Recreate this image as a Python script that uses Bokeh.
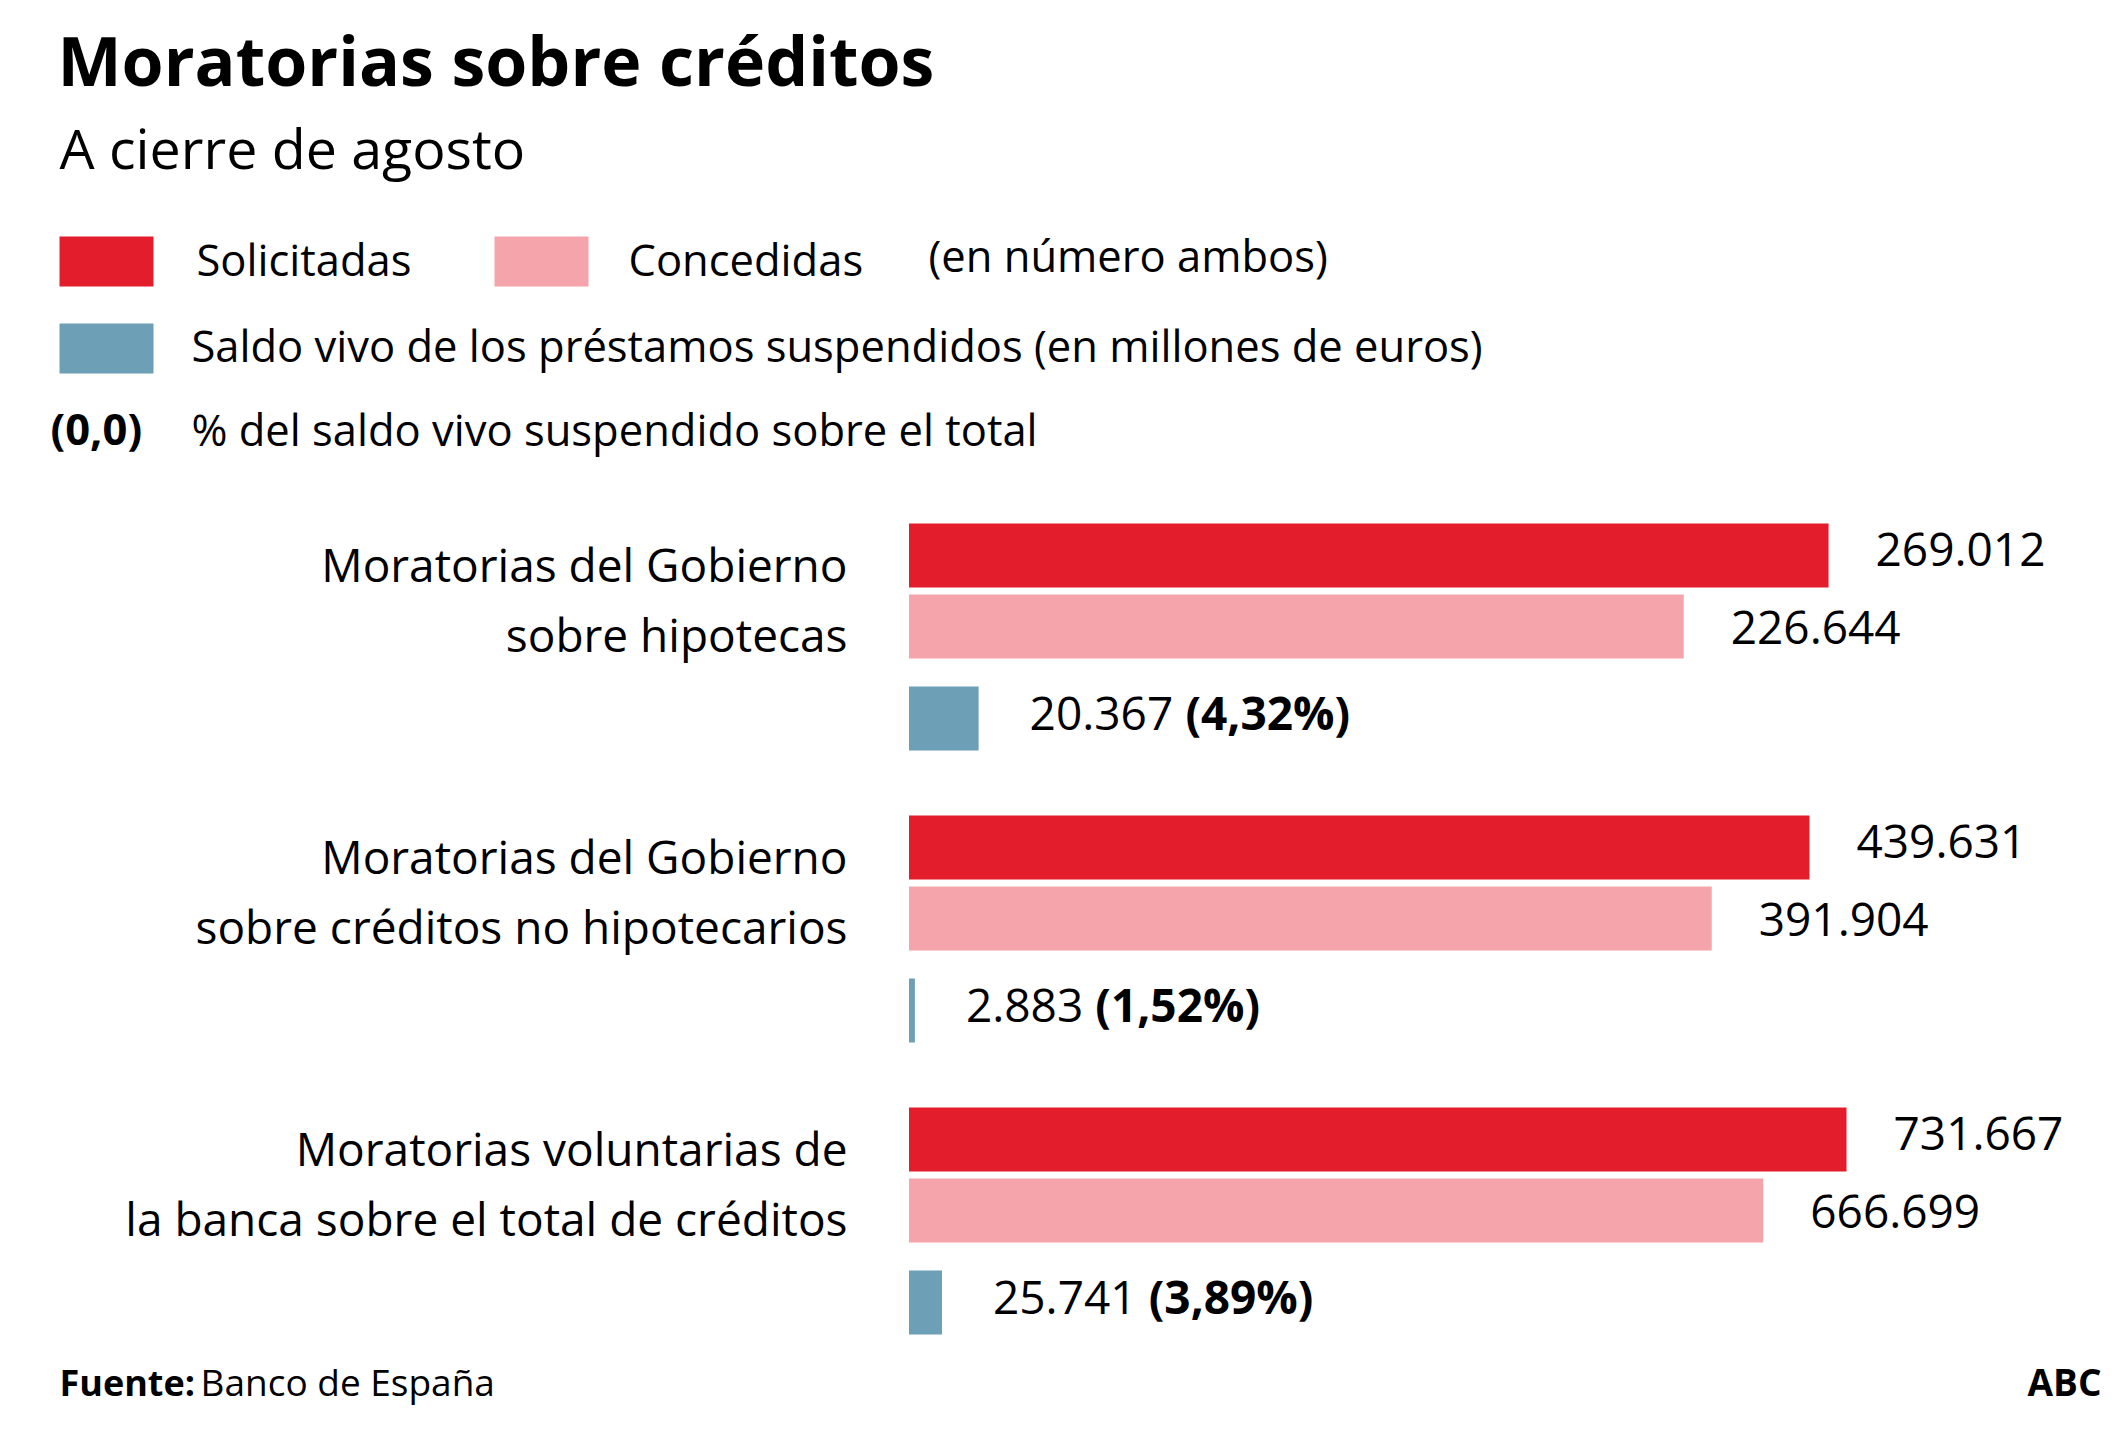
from bokeh.plotting import figure
from bokeh.models import Range1d, Label, ColumnDataSource
from bokeh.core.properties import value
from bokeh.embed import file_html
from bokeh.resources import INLINE

# ---------------- data ----------------
cat_line1 = ["Moratorias del Gobierno", "Moratorias del Gobierno", "Moratorias voluntarias de"]
cat_line2 = ["sobre hipotecas", "sobre créditos no hipotecarios", "la banca sobre el total de créditos"]
solicitadas = [269012, 439631, 731667]          # número
concedidas = [226644, 391904, 666699]           # número
saldo_vivo = [20367, 2883, 25741]               # millones de euros
pct_saldo = [4.32, 1.52, 3.89]                  # % del saldo vivo suspendido sobre el total
# value at the right edge of each group's own scale (each block is drawn to its own scale)
scale_max = [351200, 586100, 936900]

# ---------------- style / layout ----------------
FONT = "Open Sans"
RED, PINK, BLUE = "#E31D2B", "#F4A4AA", "#6D9FB6"
BODY = 46
LEG = 43.5
X_LEFT, X_RIGHT = 0, 2109          # page coordinates (px of the picture)
Y_TOP, Y_BOTTOM = 0, 1439
BAR_X0 = 908.5                     # where value 0 sits
GROUP_TOP0, GROUP_PITCH = 523, 292
ROW_TOP = [0, 71, 163]             # red, pink, blue (offset from group top)
BAR_H = 64
BASE_K = 0.42                      # baseline correction (em)

W = X_RIGHT - X_LEFT
H = Y_BOTTOM - Y_TOP

p = figure(width=W, height=H, x_range=Range1d(X_LEFT, X_RIGHT), y_range=Range1d(Y_BOTTOM, Y_TOP),
           output_backend="svg", toolbar_location=None, tools="",
           x_axis_location=None, y_axis_location=None, min_border=0)
p.grid.visible = False
p.outline_line_color = None
p.background_fill_color = "white"
p.border_fill_color = "white"


def label(x, y, text, size=BODY, bold=False, align="left", color="#000000"):
    p.add_layout(Label(x=x, y=y - BASE_K * size, text=text, text_font=FONT, text_font_size=f"{size}px",
                       text_font_style="bold" if bold else "normal", text_align=align,
                       text_baseline="alphabetic", text_color=color))


# ---------------- header ----------------
label(57, 88, "Moratorias sobre créditos", size=68, bold=True)
label(59, 170, "A cierre de agosto", size=55.5)

# legend swatches
sw = ColumnDataSource(dict(left=[59, 494, 59], right=[153, 588, 153],
                           top=[236, 236, 323], bottom=[286, 286, 373],
                           color=[RED, PINK, BLUE]))
p.quad(left="left", right="right", top="top", bottom="bottom", fill_color="color",
       line_color=None, source=sw)
label(196, 277, "Solicitadas", size=LEG)
label(628, 277, "Concedidas", size=LEG)
label(928, 273, "(en número ambos)", size=LEG)
label(191, 363, "Saldo vivo de los préstamos suspendidos (en millones de euros)", size=LEG)
label(50, 446, "(0,0)", size=LEG, bold=True)
label(191, 447, "% del saldo vivo suspendido sobre el total", size=LEG)

# ---------------- bars ----------------
def es_int(v):
    return f"{v:,}".replace(",", ".")


def es_pct(v):
    return f"({v:.2f}%)".replace(".", ",")


# Open Sans advance widths (em) for positioning the bold part after the number
ADV = {".": 0.266, " ": 0.26}


def text_width(s, size):
    return sum(ADV.get(c, 0.572) for c in s) * size


DY = BASE_K * BODY
for g in range(3):
    rng = f"g{g}"
    end = scale_max[g]
    start = -end * (BAR_X0 - X_LEFT) / (X_RIGHT - BAR_X0)
    p.extra_x_ranges[rng] = Range1d(start, end)
    top = GROUP_TOP0 + g * GROUP_PITCH
    centers = [top + r + BAR_H / 2 for r in ROW_TOP]
    src = ColumnDataSource(dict(y=centers, right=[solicitadas[g], concedidas[g], saldo_vivo[g]],
                                color=[RED, PINK, BLUE]))
    p.hbar(y="y", left=0, right="right", height=BAR_H, fill_color="color", line_color=None,
           source=src, x_range_name=rng)

    # value labels
    vals = ColumnDataSource(dict(x=[solicitadas[g], concedidas[g]],
                                 y=[centers[0] + 13 - DY, centers[1] + 20 - DY],
                                 t=[es_int(solicitadas[g]), es_int(concedidas[g])]))
    p.text(x="x", y="y", text="t", source=vals, x_range_name=rng, x_offset=47,
           text_font=value(FONT), text_font_size=f"{BODY}px", text_baseline="alphabetic",
           text_color="#000000")
    num = es_int(saldo_vivo[g]) + " "
    p.text(x=[saldo_vivo[g]], y=[centers[2] + 13 - DY], text=[num], x_range_name=rng, x_offset=51,
           text_font=value(FONT), text_font_size=f"{BODY}px", text_baseline="alphabetic",
           text_color="#000000")
    p.text(x=[saldo_vivo[g]], y=[centers[2] + 13 - DY], text=[es_pct(pct_saldo[g])], x_range_name=rng,
           x_offset=51 + text_width(num, BODY), text_font=value(FONT), text_font_size=f"{BODY}px",
           text_font_style="bold", text_baseline="alphabetic", text_color="#000000")

    # category labels
    label(847, centers[0] + 28, cat_line1[g], align="right")
    label(847, centers[1] + 27, cat_line2[g], align="right")

# ---------------- footer ----------------
label(59, 1397, "Fuente:", size=36, bold=True)
label(200, 1397, "Banco de España", size=37)
label(2101, 1397, "ABC", size=37, bold=True, align="right")

open("out.html", "w").write(file_html(p, INLINE))
